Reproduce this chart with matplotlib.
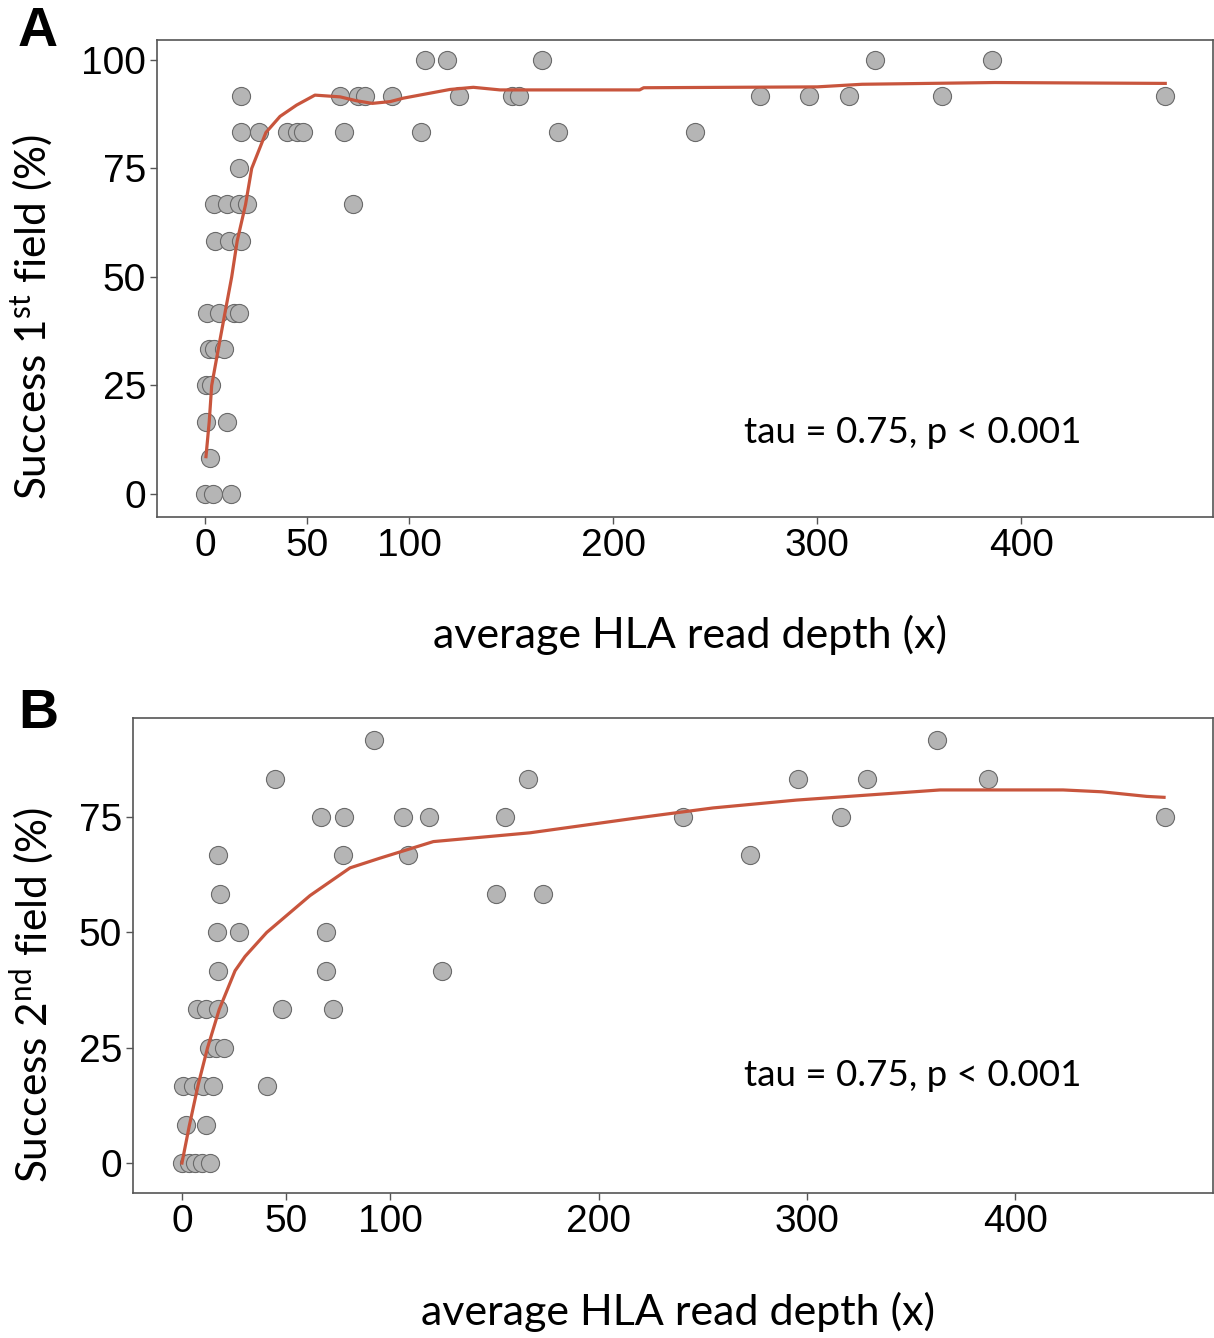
import matplotlib
matplotlib.use("Agg")
import matplotlib.pyplot as plt

# ---------------- data ----------------
# Panel A: success of 1st field typing
a_x = [107.8, 118.8, 165.3, 328.4, 385.6,
       17.6, 66.0, 75.0, 78.4, 91.5, 124.5, 150.3, 154.1, 272.0, 296.0, 315.4, 361.0, 470.6,
       17.5, 26.6, 40.0, 45.0, 48.0, 68.3, 105.7, 173.2, 240.2,
       16.7,
       4.6, 10.9, 16.8, 20.4, 72.7,
       4.9, 11.9, 17.5,
       1.1, 7.0, 14.4, 16.8,
       2.0, 4.5, 9.3,
       0.5, 2.9,
       0.5, 10.9,
       2.5,
       0.0, 4.0, 13.0]
a_y = [100, 100, 100, 100, 100,
       91.7, 91.7, 91.7, 91.7, 91.7, 91.7, 91.7, 91.7, 91.7, 91.7, 91.7, 91.7, 91.7,
       83.3, 83.3, 83.3, 83.3, 83.3, 83.3, 83.3, 83.3, 83.3,
       75,
       66.7, 66.7, 66.7, 66.7, 66.7,
       58.3, 58.3, 58.3,
       41.7, 41.7, 41.7, 41.7,
       33.3, 33.3, 33.3,
       25, 25,
       16.7, 16.7,
       8.3,
       0, 0, 0]

# Panel A smoother
a_fit_x = [0.5, 2.1, 3.3, 6.5, 9.8, 13.1, 15.8, 19.9, 22.9, 29.9, 36.8, 44.9, 53.9,
           66.2, 74.3, 82.0, 90.7, 97.2, 120.0, 131.5, 144.6, 213.0, 215.0, 300.0,
           322.0, 387.0, 470.6]
a_fit_y = [8.6, 16.7, 25.0, 33.3, 41.7, 50.0, 58.3, 66.7, 75.0, 83.3, 87.0, 89.6, 91.9,
           91.5, 90.6, 90.0, 90.4, 91.2, 93.2, 93.7, 93.1, 93.1, 93.6, 93.8,
           94.4, 94.8, 94.6]

# Panel B: success of 2nd field typing
b_x = [92.4, 362.4,
       44.7, 166.0, 296.0, 329.0, 387.0,
       66.6, 78.0, 106.0, 118.7, 155.0, 240.4, 316.4, 472.0,
       17.4, 77.2, 108.4, 272.7,
       18.2, 151.0, 173.5,
       17.0, 27.5, 69.1,
       17.4, 69.1, 125.0,
       7.0, 11.5, 17.4, 47.9, 72.4,
       13.1, 16.3, 20.2,
       0.6, 5.1, 9.9, 15.0, 40.7,
       1.9, 11.5,
       0.0, 3.5, 6.2, 9.5, 13.4]
b_y = [91.7, 91.7,
       83.3, 83.3, 83.3, 83.3, 83.3,
       75, 75, 75, 75, 75, 75, 75, 75,
       66.7, 66.7, 66.7, 66.7,
       58.3, 58.3, 58.3,
       50, 50, 50,
       41.7, 41.7, 41.7,
       33.3, 33.3, 33.3, 33.3, 33.3,
       25, 25, 25,
       16.7, 16.7, 16.7, 16.7, 16.7,
       8.3, 8.3,
       0, 0, 0, 0, 0]

b_fit_x = [0.0, 3.5, 7.8, 12.3, 17.9, 25.5, 30.3, 40.7, 61.5, 80.7, 95.0, 120.7,
           167.0, 218.0, 255.0, 295.0, 364.0, 423.0, 441.6, 463.2, 471.5]
b_fit_y = [0.0, 8.0, 17.0, 25.0, 33.3, 41.7, 44.8, 50.0, 58.0, 64.0, 66.1, 69.7,
           71.6, 74.8, 77.0, 78.7, 80.9, 80.9, 80.5, 79.5, 79.3]

x_ticks = [0, 50, 100, 200, 300, 400]
a_y_ticks = [0, 25, 50, 75, 100]
b_y_ticks = [0, 25, 50, 75]
annot = "tau = 0.75, p < 0.001"
x_label = "average HLA read depth (x)"
a_y_label = "Success 1$^{\\mathrm{st}}$ field (%)"
b_y_label = "Success 2$^{\\mathrm{nd}}$ field (%)"

# ---------------- style ----------------
W, H = 1214, 1338
DPI = 100
plt.rcParams['mathtext.fontset'] = 'custom'
plt.rcParams['mathtext.rm'] = 'Lato'
plt.rcParams['mathtext.it'] = 'Lato:italic'
plt.rcParams['mathtext.bf'] = 'Lato:bold'

fig = plt.figure(figsize=(W / DPI, H / DPI), dpi=DPI)


def fx(px):
    return px / W


def fy(py):
    return 1 - py / H


def make_axes(l, t, r, b):
    return fig.add_axes([fx(l), fy(b), fx(r - l), (b - t) / H])


PT_COLOR = '#b5b5b5'
EDGE = '#6a6a6a'
LINE = '#c8553d'
SPINE = '#555555'
TICKFONT = dict(family='Liberation Sans', size=28)
LABELFONT = 'Lato'


def style(ax, yticks, xlim, ylim):
    ax.set_xlim(*xlim)
    ax.set_ylim(*ylim)
    ax.set_xticks(x_ticks)
    ax.set_yticks(yticks)
    ax.set_xticklabels([str(v) for v in x_ticks], **TICKFONT)
    ax.set_yticklabels([str(v) for v in yticks], **TICKFONT)
    for s in ax.spines.values():
        s.set_color(SPINE)
        s.set_linewidth(1.2)
    ax.tick_params(axis='both', length=5, width=1, color=SPINE, pad=3)


# Panel A
axA = make_axes(157, 40, 1213, 517)
axA.scatter(a_x, a_y, s=170, facecolor=PT_COLOR, edgecolor=EDGE, linewidth=0.8, zorder=2)
axA.plot(a_fit_x, a_fit_y, color=LINE, lw=2.3, zorder=3)
style(axA, a_y_ticks, (-23.5, 494), (-5.3, 104.6))
fig.text(fx(913), fy(432), annot, family=LABELFONT, fontsize=26.5, ha='center', va='center')
fig.text(fx(690), fy(635), x_label, family=LABELFONT, fontsize=31, ha='center', va='center')
fig.text(fx(32), fy(317), a_y_label, family=LABELFONT, fontsize=30.5, ha='center', va='center',
         rotation=90)
fig.text(fx(38), fy(32), "A", family='Liberation Sans', weight='bold', fontsize=40,
         ha='center', va='center')

# Panel B
axB = make_axes(133, 718, 1213, 1193)
axB.scatter(b_x, b_y, s=170, facecolor=PT_COLOR, edgecolor=EDGE, linewidth=0.8, zorder=2)
axB.plot(b_fit_x, b_fit_y, color=LINE, lw=2.3, zorder=3)
style(axB, b_y_ticks, (-23.5, 495), (-6.5, 96.5))
fig.text(fx(913), fy(1076), annot, family=LABELFONT, fontsize=26.5, ha='center', va='center')
fig.text(fx(678), fy(1312), x_label, family=LABELFONT, fontsize=31, ha='center', va='center')
fig.text(fx(32), fy(995), b_y_label, family=LABELFONT, fontsize=30.5, ha='center', va='center',
         rotation=90)
fig.text(fx(38), fy(714), "B", family='Liberation Sans', weight='bold', fontsize=40,
         ha='center', va='center')

fig.savefig("out.png", dpi=DPI, facecolor='white')
